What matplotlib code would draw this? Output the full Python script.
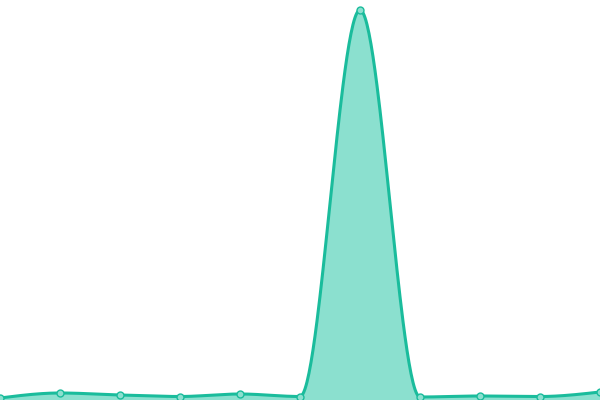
import numpy as np
import matplotlib
matplotlib.use("Agg")
import matplotlib.pyplot as plt

# values (pixel height above the bottom edge)
xs = [0, 1, 2, 3, 4, 5, 6, 7, 8, 9, 10]
values = [2, 7, 5, 3.5, 6, 3.5, 390, 3, 4, 3.5, 8]

line_color = "#1abc9c"
fill_color = "#8be0cf"


def monotone_x(x, y, n=60):
    # monotone cubic interpolation, same idea as d3.curveMonotoneX
    x = np.asarray(x, float)
    y = np.asarray(y, float)
    h = np.diff(x)
    s = np.diff(y) / h
    t = np.zeros_like(y)
    for i in range(1, len(y) - 1):
        p = (s[i - 1] * h[i] + s[i] * h[i - 1]) / (h[i - 1] + h[i])
        t[i] = (np.sign(s[i - 1]) + np.sign(s[i])) * min(abs(s[i - 1]), abs(s[i]), 0.5 * abs(p))
    t[0] = (3 * s[0] - t[1]) / 2
    t[-1] = (3 * s[-1] - t[-2]) / 2
    px, py = [], []
    for i in range(len(y) - 1):
        u = np.linspace(0, 1, n, endpoint=False)
        h00 = 2 * u**3 - 3 * u**2 + 1
        h10 = u**3 - 2 * u**2 + u
        h01 = -2 * u**3 + 3 * u**2
        h11 = u**3 - u**2
        px.extend(x[i] + u * h[i])
        py.extend(h00 * y[i] + h10 * h[i] * t[i] + h01 * y[i + 1] + h11 * h[i] * t[i + 1])
    px.append(x[-1])
    py.append(y[-1])
    return np.array(px), np.array(py)


fig = plt.figure(figsize=(6, 4), dpi=100)
ax = fig.add_axes([0, 0, 1, 1])

cx, cy = monotone_x(xs, values)
ax.fill_between(cx, 0, cy, color=fill_color, lw=0)
ax.plot(cx, cy, color=line_color, lw=2.2, solid_capstyle="round")
ax.plot(xs, values, "o", ms=5, mfc=fill_color, mec=line_color, mew=1, clip_on=False)

ax.set_xlim(0, 10)
ax.set_ylim(0, 400)
ax.axis("off")

fig.savefig("out.png", dpi=100)
